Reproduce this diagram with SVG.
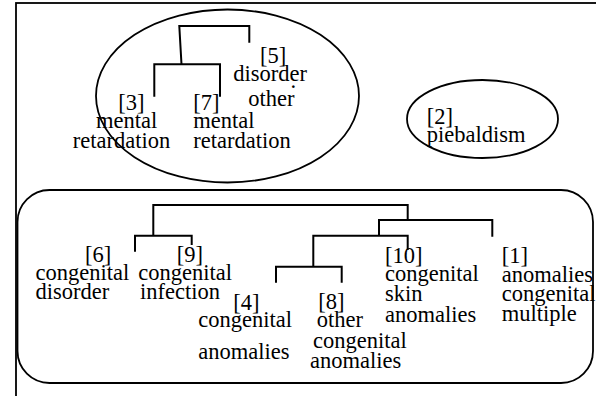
<svg xmlns="http://www.w3.org/2000/svg" width="596" height="396" viewBox="0 0 596 396">
<style>
text{font-family:'Liberation Serif',Tinos,'Times New Roman','DejaVu Serif',serif;font-size:22.5px;fill:#000}
.sh{fill:none;stroke:#000;stroke-width:1.8}
.ln{fill:none;stroke:#000;stroke-width:2}
</style>
<rect x="0" y="0" width="596" height="396" fill="#fff"/>
<rect class="sh" x="16" y="3" width="600" height="410"/>
<g id="cluster1"><ellipse class="sh" cx="227.5" cy="96" rx="131.5" ry="86.5"/></g>
<g id="cluster2"><rect class="sh" x="17.5" y="190" width="575.5" height="193" rx="32" ry="32"/></g>
<g id="connectors">
<path class="ln" d="M181.5,64.3 L179.3,26 H249.3 V42.7"/>
<path class="ln" d="M154.3,96.7 V64.3 H220 V96.7"/>
<path class="ln" d="M153.3,235.7 V205 H407.7 V220"/>
<path class="ln" d="M135,251.7 V235.7 H191.7 V245"/>
<path class="ln" d="M379,235.7 V220 H492.3 V236.7"/>
<path class="ln" d="M313.3,266.7 V235.7 H407.7 V250"/>
<path class="ln" d="M276,282.7 V266.7 H341.7 V282.7"/>
</g>
<g font-family="Liberation Serif, serif">
<g id="n3"><text x="118.3" y="110">[3]</text><text x="96" y="128">mental</text><text x="72.7" y="148">retardation</text></g>
<g id="n7"><text x="193.3" y="110">[7]</text><text x="193.3" y="128">mental</text><text x="193.3" y="148">retardation</text></g>
<g id="n5"><text x="260" y="63">[5]</text><text x="233.3" y="81">disorder</text><text x="290.5" y="88">.</text><text x="248.3" y="106">other</text></g>
<g id="n2"><ellipse class="sh" cx="482.5" cy="119" rx="75.5" ry="39"/><text x="426.7" y="124">[2]</text><text x="426.7" y="142">piebaldism</text></g>
<g id="n6"><text x="85" y="262">[6]</text><text x="35.5" y="280">congenital</text><text x="35.5" y="299">disorder</text></g>
<g id="n9"><text x="176.7" y="262">[9]</text><text x="138.3" y="280">congenital</text><text x="140" y="299">infection</text></g>
<g id="n4"><text x="233.3" y="310">[4]</text><text x="198.3" y="327">congenital</text><text x="198.3" y="359">anomalies</text></g>
<g id="n8"><text x="318.3" y="309">[8]</text><text x="316.7" y="327">other</text><text x="313" y="348">congenital</text><text x="310" y="368">anomalies</text></g>
<g id="n10"><text x="385" y="263">[10]</text><text x="385" y="281">congenital</text><text x="385" y="301">skin</text><text x="385" y="322">anomalies</text></g>
<g id="n1"><text x="501.7" y="263">[1]</text><text x="501.7" y="282">anomalies</text><text x="501.7" y="301">congenital</text><text x="501.7" y="321">multiple</text></g>
</g>
</svg>
